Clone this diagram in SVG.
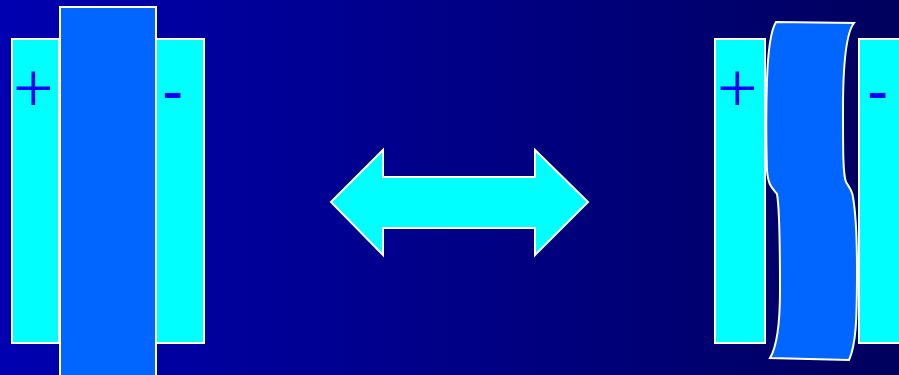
<svg xmlns="http://www.w3.org/2000/svg" width="899" height="375" viewBox="0 0 899 375">
<defs>
<linearGradient id="bg" x1="0" y1="0" x2="1" y2="0">
<stop offset="0" stop-color="#0000b0"/>
<stop offset="1" stop-color="#00005e"/>
</linearGradient>
<style>
.plate{fill:#00ffff;stroke:#ffffff;stroke-width:2}
.core{fill:#0066ff;stroke:#ffffff;stroke-width:2}
.plus{fill:#0000ff;font-family:"Liberation Serif",serif;font-size:72px}
.minus{fill:#0000ff;font-family:"Liberation Sans",Arial,sans-serif;font-size:64px}
.arrow{fill:#00ffff;stroke:#ffffff;stroke-width:2}
</style>
</defs>
<rect x="0" y="0" width="899" height="375" fill="url(#bg)"/>
<g id="left-cell">
<rect class="plate" x="12" y="39" width="47" height="304"/>
<rect class="plate" x="156" y="39" width="48" height="304"/>
<rect class="core" x="60" y="7" width="96" height="372"/>
<text class="plus" x="13" y="112">+</text>
<text class="minus" x="162" y="113">-</text>
</g>
<g id="connectors">
<path class="arrow" d="M331 202L383 150V177H535V150L588 202L535 255V228H383V255Z"/>
</g>
<g id="right-cell">
<rect class="plate" x="715" y="39" width="50" height="304"/>
<rect class="plate" x="859" y="39" width="44" height="304"/>
<path class="core" d="M776 22L854 23C846 33 843 70 843 110C843 150 843 175 846 182C849 187 852 190 853 197C856 215 857 240 857 270C857 320 856 345 849 360L770 358C778 345 780 320 780 290C780 250 780 210 777 194C772 188 768 185 767 170C766 140 766 110 767 80C768 50 771 30 776 22Z"/>
<text class="plus" x="717" y="112">+</text>
<text class="minus" x="867" y="113">-</text>
</g>
</svg>
